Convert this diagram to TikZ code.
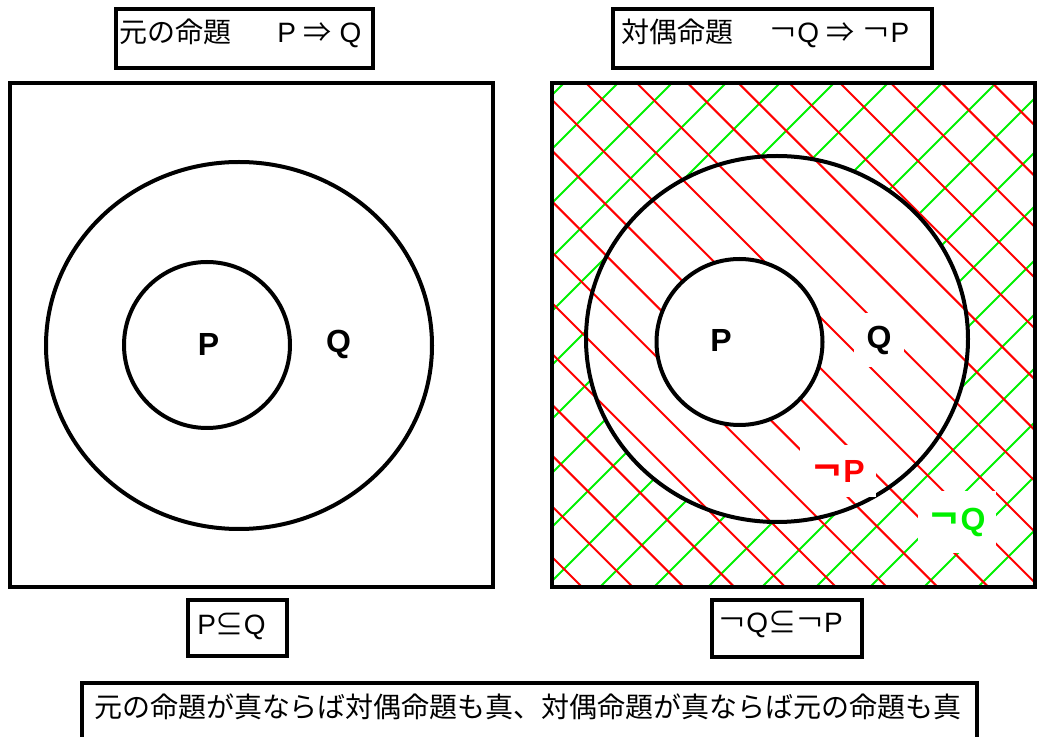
\documentclass[tikz,border=0pt]{standalone}
\usepackage{fontspec}
\setmainfont{Liberation Sans}
\newfontfamily\cjk{Noto Sans CJK JP}
\definecolor{lgreen}{RGB}{0,240,0}
\definecolor{hred}{RGB}{255,0,0}
\begin{document}
\begin{tikzpicture}[x=0.75pt,y=-0.75pt,
  frame/.style={line width=3pt},
  ring/.style={line width=3pt},
  tbox/.style={draw, line width=3pt, inner sep=0pt},
  hatchr/.style={hred, line width=1.5pt},
  hatchg/.style={lgreen, line width=1.5pt},
  lbl/.style={font=\fontsize{24}{24}\selectfont\bfseries, inner sep=0pt},
  lattxt/.style={font=\fontsize{21}{21}\selectfont, inner sep=0pt},
  jp/.style={font=\fontsize{21}{21}\selectfont\cjk, inner sep=0pt},
  mask/.style={fill=white}]

\useasboundingbox (0,0) rectangle (1040,737);

% hatching of the right panel
\begin{scope}
  \clip (552,83) rectangle (1035,587);
  \foreach \k in {-3,...,17} {
    \draw[hatchg] ({755+54*\k-50},50) -- ({755+54*\k-650},650);
  }
  \fill[white] (777,339) ellipse [x radius=191, y radius=183];
  \foreach \k in {-12,...,10} {
    \draw[hatchr] ({503+50.8*\k+50},50) -- ({503+50.8*\k+650},650);
  }
  \fill[white] (739.5,342) circle [radius=83];
\end{scope}

% panels
\draw[frame] (10,83) rectangle (493,587);
\draw[frame] (552,83) rectangle (1035,587);

% left Venn
\draw[ring] (239,345.5) ellipse [x radius=193, y radius=183.5];
\draw[ring] (207,345) circle [radius=83];
% right Venn
\draw[ring] (777,339) ellipse [x radius=191, y radius=183];
\draw[ring] (739.5,342) circle [radius=83];

% set labels
\node[lbl] (P1) at (208.5,344.5) {P};
\node[lbl] (Q1) at (338.5,344) {Q};
\node[lbl] (P2) at (721,340) {P};
\node[lbl, mask, minimum width=37.5pt, minimum height=41pt] (Q2) at (879,340) {Q};
\node[lbl, mask, text=hred, minimum width=57pt, minimum height=39pt] (nP) at (838,471) {{\cjk ￢}P};
\node[lbl, mask, text=lgreen, minimum width=59pt, minimum height=46pt] (nQ) at (957,522) {{\cjk ￢}Q};

% title boxes
\node[tbox, minimum width=192.75pt, minimum height=44.25pt] (boxA) at (244.5,38.5) {};
\node[jp, anchor=base west] (tA1) at (119,43) {元の命題};
\node[lattxt, anchor=base west] (tA2) at (277,43) {P {\cjk ⇒} Q};

\node[tbox, minimum width=239.25pt, minimum height=44.25pt] (boxB) at (772.5,38.5) {};
\node[jp, anchor=base west] (tB1) at (621,43) {対偶命題};
\node[lattxt, anchor=base west] (tB2) at (769,43) {{\cjk ￢}Q {\cjk ⇒} {\cjk ￢}P};

% inclusion boxes
\node[tbox, minimum width=74.25pt, minimum height=42pt] (boxC) at (237.5,628) {};
\node[lattxt, anchor=base west] (tC) at (197,635) {P{\cjk ⊆}Q};

\node[tbox, minimum width=112.5pt, minimum height=42.75pt] (boxD) at (787,628.5) {};
\node[lattxt, anchor=base west] (tD) at (718,633) {{\cjk ￢}Q{\cjk ⊆}{\cjk ￢}P};

% bottom statement
\node[tbox, minimum width=671.25pt, minimum height=57.75pt] (boxE) at (529.5,721.5) {};
\node[jp, anchor=base] (tE) at (528,718) {元の命題が真ならば対偶命題も真、対偶命題が真ならば元の命題も真};

\end{tikzpicture}
\end{document}
